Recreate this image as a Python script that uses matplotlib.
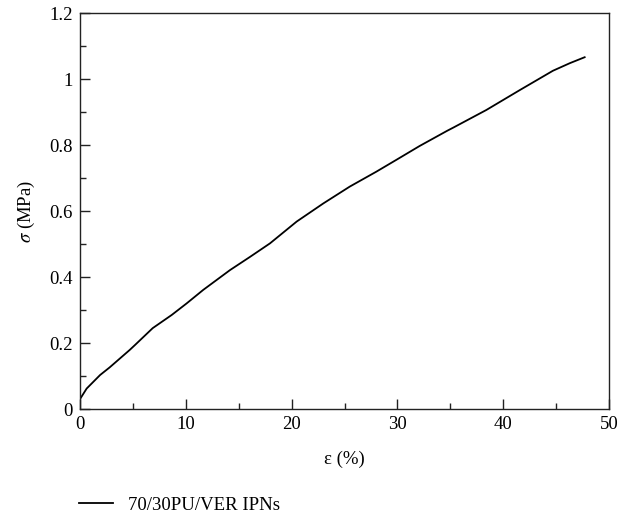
import matplotlib
matplotlib.use("Agg")
import matplotlib.pyplot as plt
from matplotlib.ticker import MultipleLocator

plt.rcParams['font.family'] = ['Liberation Serif', 'DejaVu Serif']
plt.rcParams['mathtext.fontset'] = 'stix'

strain = [0.0, 0.63, 1.9, 2.8, 4.7, 5.2, 6.87, 8.67, 10.08, 11.65, 14.18, 16.07,
          17.96, 20.48, 23.0, 25.5, 28.0, 29.9, 32.1, 34.7, 35.3, 38.4, 41.6,
          44.7, 46.3, 47.7]
stress = [0.03, 0.062, 0.103, 0.126, 0.179, 0.194, 0.245, 0.285, 0.320, 0.361,
          0.421, 0.461, 0.502, 0.568, 0.623, 0.674, 0.719, 0.755, 0.797, 0.843,
          0.853, 0.906, 0.967, 1.025, 1.048, 1.066]
series_label = "70/30PU/VER IPNs"

FS = 13.5
fig = plt.figure(figsize=(6.3, 5.18), dpi=100)
ax = fig.add_axes([80/630, 1-409/518, (609-80)/630, (409-13)/518])
line, = ax.plot(strain, stress, color='black', lw=1.3, label=series_label)
ax.set_xlim(0, 50)
ax.set_ylim(0, 1.2)
ax.xaxis.set_major_locator(MultipleLocator(10))
ax.xaxis.set_minor_locator(MultipleLocator(5))
ax.yaxis.set_minor_locator(MultipleLocator(0.1))
ax.set_yticks([0, 0.2, 0.4, 0.6, 0.8, 1.0, 1.2])
ax.set_yticklabels(['0', '0.2', '0.4', '0.6', '0.8', '1', '1.2'])
ax.tick_params(which='both', direction='in', top=False, right=False, labelsize=FS, color='#222222')
ax.tick_params(which='major', length=7, width=1, pad=5)
ax.tick_params(which='minor', length=4, width=1)
for s in ax.spines.values():
    s.set_linewidth(1.0)
    s.set_color('#222222')
ax.set_xlabel('ε (%)', fontsize=FS, labelpad=13)
ax.set_ylabel(r'$\sigma$ (MPa)', fontsize=FS, labelpad=9)

fig.legend(handles=[line], loc='center left', bbox_to_anchor=(62/630, 1-505/518),
           frameon=False, fontsize=FS, handlelength=1.8, handletextpad=0.8)

fig.savefig('out.png', dpi=100)
